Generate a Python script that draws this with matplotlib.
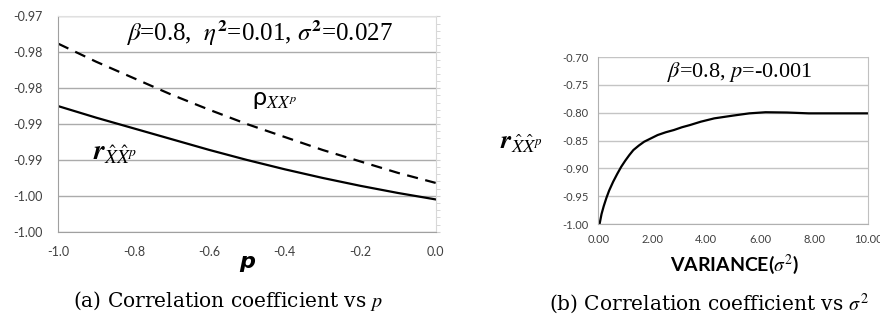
import numpy as np
import matplotlib
matplotlib.use("Agg")
import matplotlib.pyplot as plt
from matplotlib.ticker import MultipleLocator

plt.rcParams["mathtext.fontset"] = "stix"

# ---- data (a): correlation vs p ----
p_vals = [-1.0, -0.9, -0.8, -0.7, -0.6, -0.5, -0.4, -0.3, -0.2, -0.1, 0.0]
rho_vals = [-0.9738, -0.9763, -0.9786, -0.9809, -0.9830, -0.9850,
            -0.9868, -0.9886, -0.9902, -0.9918, -0.9932]
r_vals = [-0.9825, -0.9841, -0.9856, -0.9871, -0.9886, -0.9900,
          -0.9913, -0.9925, -0.9936, -0.9946, -0.9955]
yticks_a = [-1.000, -0.995, -0.990, -0.985, -0.980, -0.975, -0.970]
ylabels_a = ["-1.00", "-1.00", "-0.99", "-0.99", "-0.98", "-0.98", "-0.97"]
xticks_a = [-1.0, -0.8, -0.6, -0.4, -0.2, 0.0]

# ---- data (b): correlation vs variance ----
var_vals = [0.05, 0.12, 0.2, 0.3, 0.4, 0.55, 0.7, 0.85, 1.0, 1.15, 1.3, 1.5,
            1.7, 1.95, 2.2, 2.5, 2.8, 3.1, 3.4, 3.8, 4.3, 5.0, 5.6, 6.2,
            7.0, 7.8, 8.5, 9.2, 10.0]
rv_vals = [-0.999, -0.982, -0.968, -0.953, -0.940, -0.924, -0.910, -0.897,
           -0.886, -0.876, -0.867, -0.859, -0.852, -0.846, -0.840, -0.835,
           -0.831, -0.826, -0.822, -0.816, -0.810, -0.805, -0.801, -0.799,
           -0.7995, -0.801, -0.801, -0.801, -0.801]
yticks_b = [-1.00, -0.95, -0.90, -0.85, -0.80, -0.75, -0.70]
xticks_b = [0, 2, 4, 6, 8, 10]

GRID = "#ababab"
TICKC = "#404040"
SANS = "Lato"
SERIF = "Liberation Serif"

fig = plt.figure(figsize=(8.8, 3.22), dpi=100)

# ============ panel (a) ============
ax = fig.add_axes([0.0663, 0.2804, 0.4288, 0.6684])
ax.plot(p_vals, rho_vals, color="black", lw=1.6, dashes=(5, 3.4))
ax.plot(p_vals, r_vals, color="black", lw=1.6)
ax.set_xlim(-1.0, 0.0)
ax.set_ylim(-1.000, -0.970)
ax.set_yticks(yticks_a)
ax.set_yticklabels(ylabels_a)
ax.set_xticks(xticks_a)
ax.set_xticklabels([f"{v:.1f}" for v in xticks_a])
ax.yaxis.set_minor_locator(MultipleLocator(0.001))
ax.grid(True, axis="y", color=GRID, lw=1.0)
ax.set_axisbelow(True)
ax.tick_params(axis="y", which="both", left=False, right=True, direction="out",
               length=3, color="#d0d0d0", labelsize=9, labelcolor=TICKC, pad=8)
ax.tick_params(axis="x", length=0, labelsize=9, labelcolor=TICKC, pad=10)
for lab in ax.get_xticklabels() + ax.get_yticklabels():
    lab.set_family(SANS)
ax.spines["left"].set_color("#a0a0a0")
ax.spines["bottom"].set_color("#a0a0a0")
ax.spines["right"].set_color("#d8d8d8")
ax.spines["top"].set_color("#e0e0e0")

ax.text(0.534, 0.923, r"$\beta$=0.8,  $\eta^{\mathbf{2}}$=0.01, $\sigma^{\mathbf{2}}$=0.027",
        transform=ax.transAxes, ha="center", va="center", fontsize=18, family=SERIF)
ax.text(0.574, 0.612, r"ρ$_{XX^{p}}$", transform=ax.transAxes,
        ha="center", va="center", fontsize=18, family=SANS)
ax.text(0.150, 0.370, r"$\mathbfit{r}_{\hat{X}\hat{X}^{p}}$", transform=ax.transAxes,
        ha="center", va="center", fontsize=20)
fig.text(0.281, 0.186, "p", ha="center", va="center", fontsize=16,
         fontweight="bold", style="italic", family="DejaVu Sans")
fig.text(0.259, 0.066, r"(a) Correlation coefficient vs $p$", ha="center",
         va="center", fontsize=14.5, family="DejaVu Serif")

# ============ panel (b) ============
bx = fig.add_axes([0.6799, 0.3043, 0.3065, 0.5181])
bx.plot(var_vals, rv_vals, color="black", lw=1.6)
bx.set_xlim(0, 10)
bx.set_ylim(-1.00, -0.70)
bx.set_yticks(yticks_b)
bx.set_yticklabels([f"{v:.2f}" for v in yticks_b])
bx.set_xticks(xticks_b)
bx.set_xticklabels([f"{v:.2f}" for v in xticks_b])
bx.grid(True, axis="y", color="#c4c4c4", lw=1.0)
bx.set_axisbelow(True)
bx.tick_params(axis="y", length=0, labelsize=8, labelcolor=TICKC, pad=7)
bx.tick_params(axis="x", length=0, labelsize=8, labelcolor=TICKC, pad=7)
for lab in bx.get_xticklabels() + bx.get_yticklabels():
    lab.set_family(SANS)
bx.spines["left"].set_color("#b0b0b0")
bx.spines["bottom"].set_color("#b0b0b0")
bx.spines["right"].set_color("#c0c0c0")
bx.spines["top"].set_visible(False)

bx.text(0.525, 0.911, r"$\beta$=0.8, $p$=-0.001", transform=bx.transAxes,
        ha="center", va="center", fontsize=16, family=SERIF)
fig.text(0.592, 0.559, r"$\mathbfit{r}_{\hat{X}\hat{X}^{p}}$", ha="center",
         va="center", fontsize=19)
fig.text(0.835, 0.177, r"VARIANCE($\sigma^{2}$)", ha="center", va="center",
         fontsize=14, fontweight="bold", family=SANS)
fig.text(0.806, 0.058, r"(b) Correlation coefficient vs $\sigma^{2}$", ha="center",
         va="center", fontsize=14.5, family="DejaVu Serif")

fig.savefig("out.png", dpi=100)
